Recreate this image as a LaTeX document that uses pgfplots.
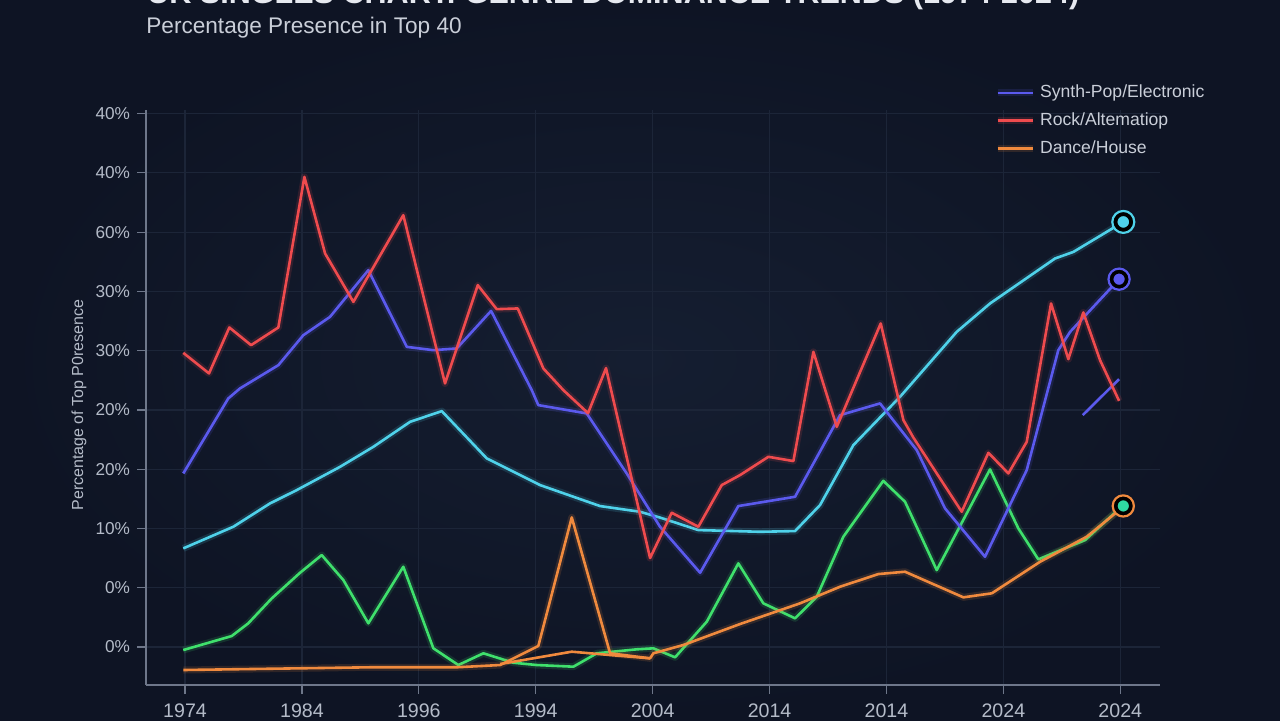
\documentclass[border=0pt]{standalone}
\usepackage{pgfplots}
\pgfplotsset{compat=1.18}
\usepackage{fontspec}
\setmainfont{Liberation Sans}
\definecolor{bgin}{HTML}{151E31}
\definecolor{bgout}{HTML}{0E1424}
\definecolor{titlecol}{HTML}{E6E9F0}
\definecolor{subcol}{HTML}{C9CED8}
\definecolor{tickcol}{HTML}{B4BBC8}
\definecolor{axcol}{HTML}{6E778A}
\definecolor{gridcol}{HTML}{1C2538}
\definecolor{synth}{HTML}{5B5AEE}
\definecolor{rock}{HTML}{EF4B4E}
\definecolor{dance}{HTML}{F08A3E}
\definecolor{cyanl}{HTML}{4FD2EA}
\definecolor{greenl}{HTML}{3FE06C}
\definecolor{teal}{HTML}{2FD9A2}
\begin{document}
\begin{tikzpicture}[x=0.5pt,y=0.5pt]
\useasboundingbox (0,0) rectangle (1280,720);
\shade[inner color=bgin, outer color=bgout] (0,0) rectangle (1280,720);
\node[anchor=base west, inner sep=0pt, text=titlecol] at (147,717) {\resizebox{466pt}{!}{\bfseries UK SINGLES CHART: GENRE DOMINANCE TRENDS (1974-2024)}};
\node[anchor=base west, inner sep=0pt, text=subcol, font=\fontsize{11.3}{13}\selectfont] at (146,687) {Percentage Presence in Top 40};
\begin{axis}[
  at={(73pt,17.5pt)}, anchor=south west,
  scale only axis, width=507pt, height=287.5pt,
  xmin=-0.334, xmax=8.34, ymin=-0.641, ymax=9.06,
  axis lines*=left,
  axis line style={draw=axcol, line width=0.7pt, -},
  xtick={0,1,2,3,4,5,6,7,8},
  xticklabels={1974,1984,1996,1994,2004,2014,2014,2024,2024},
  ytick={0,1,2,3,4,5,6,7,8,9},
  yticklabels={0\%,0\%,10\%,20\%,20\%,30\%,30\%,60\%,40\%,40\%},
  tick align=outside, major tick length=4.5pt,
  tick style={draw=axcol, line width=0.6pt},
  grid=major, major grid style={draw=gridcol, line width=0.6pt},
  ticklabel style={text=tickcol},
  yticklabel style={font=\fontsize{8.6}{10}\selectfont},
  xticklabel style={font=\fontsize{9.8}{11}\selectfont, yshift=-1.2pt},
  /pgf/number format/assume math mode=true,
  ylabel={Percentage of Top P0resence},
  every axis y label/.style={at={(axis description cs:-0.0661,0.487)}, rotate=90, anchor=center, text=tickcol, font=\fontsize{8}{10}\selectfont},
  legend style={at={(0.836,1.051)}, anchor=north west, draw=none, fill=none, text=subcol, font=\fontsize{8.8}{10}\selectfont, row sep=2pt, inner sep=0pt},
  legend cell align=left,
  legend image code/.code={\draw[#1, line width=1.3pt] (0pt,0pt) -- (17.5pt,0pt);},
  every axis plot/.append style={line width=1.3pt, line join=round},
]
% cyan (no legend)
\addplot[cyanl, forget plot, preaction={draw, line width=3.5pt, opacity=0.15}] coordinates {
(-0.015,1.664)(0.413,2.029)(0.727,2.423)(0.956,2.648)(1.326,3.040)(1.611,3.378)(1.925,3.799)(2.196,3.980)(2.581,3.182)(3.037,2.732)(3.550,2.378)(3.892,2.282)(4.063,2.184)(4.391,1.973)(4.918,1.944)(5.218,1.956)(5.432,2.395)(5.717,3.406)(6.116,4.221)(6.601,5.317)(6.886,5.796)(7.442,6.555)(7.599,6.666)(8.026,7.172)};
% green (no legend)
\addplot[greenl, forget plot, preaction={draw, line width=3.5pt, opacity=0.15}] coordinates {
(-0.015,-0.051)(0.399,0.185)(0.541,0.400)(0.742,0.821)(0.984,1.253)(1.169,1.551)(1.354,1.130)(1.568,0.400)(1.867,1.354)(2.124,-0.022)(2.338,-0.304)(2.552,-0.106)(2.808,-0.265)(3.009,-0.304)(3.322,-0.332)(3.522,-0.106)(3.864,-0.039)(4.006,-0.022)(4.192,-0.174)(4.463,0.427)(4.733,1.411)(4.947,0.737)(5.218,0.484)(5.404,0.848)(5.631,1.860)(5.973,2.804)(6.159,2.450)(6.430,1.298)(6.886,2.997)(7.128,2.002)(7.299,1.479)(7.699,1.804)(8.026,2.395)};
% extra blue segment
\addplot[synth, forget plot] coordinates {(7.679,3.912)(7.990,4.519)};
% extra orange segment
\addplot[dance, forget plot] coordinates {(2.695,-0.287)(3.308,-0.079)(3.636,-0.135)(3.978,-0.191)};
% Synth-Pop
\addplot[synth, preaction={draw, line width=3.5pt, opacity=0.15}] coordinates {
(-0.015,2.929)(0.370,4.194)(0.470,4.363)(0.798,4.755)(1.012,5.261)(1.240,5.570)(1.568,6.358)(1.897,5.064)(2.124,5.008)(2.324,5.037)(2.618,5.671)(2.966,4.334)(3.022,4.081)(3.436,3.941)(3.778,2.929)(4.063,2.029)(4.406,1.253)(4.733,2.378)(5.218,2.535)(5.603,3.912)(5.945,4.110)(6.259,3.322)(6.501,2.339)(6.843,1.523)(7.200,2.985)(7.470,5.008)(7.571,5.317)(7.990,6.206)};
\addlegendentry{Synth-Pop/Electronic}
% Rock
\addplot[rock, preaction={draw, line width=3.5pt, opacity=0.15}] coordinates {
(-0.015,4.963)(0.205,4.616)(0.379,5.391)(0.565,5.093)(0.798,5.391)(1.021,7.931)(1.198,6.639)(1.440,5.823)(1.867,7.285)(2.224,4.447)(2.504,6.105)(2.666,5.700)(2.846,5.712)(3.065,4.700)(3.236,4.334)(3.447,3.946)(3.601,4.705)(3.978,1.501)(4.163,2.265)(4.391,2.029)(4.591,2.732)(4.748,2.901)(4.990,3.209)(5.204,3.137)(5.375,4.980)(5.575,3.715)(5.951,5.459)(6.145,3.828)(6.228,3.541)(6.644,2.282)(6.872,3.277)(7.043,2.929)(7.200,3.462)(7.408,5.796)(7.556,4.857)(7.684,5.644)(7.827,4.840)(7.990,4.153)};
\addlegendentry{Rock/Altematiop}
% Dance/House
\addplot[dance, preaction={draw, line width=3.5pt, opacity=0.15}] coordinates {
(-0.015,-0.388)(1.583,-0.342)(2.324,-0.342)(2.695,-0.304)(3.022,0.017)(3.308,2.187)(3.636,-0.106)(3.978,-0.191)(4.006,-0.106)(4.263,0.034)(4.748,0.388)(5.261,0.737)(5.603,1.017)(5.931,1.231)(6.159,1.270)(6.658,0.838)(6.901,0.906)(7.314,1.438)(7.713,1.860)(8.026,2.366)};
\addlegendentry{Dance/House}
% end markers
\addplot[forget plot, only marks, mark=*, mark size=5.5pt, mark options={draw=cyanl, fill=none, line width=1.1pt}] coordinates {(8.026,7.172)};
\addplot[forget plot, only marks, mark=*, mark size=3.6pt, mark options={draw=none, fill=cyanl}] coordinates {(8.026,7.172)};
\addplot[forget plot, only marks, mark=*, mark size=5.3pt, mark options={draw=synth, fill=none, line width=1.1pt}] coordinates {(7.990,6.206)};
\addplot[forget plot, only marks, mark=*, mark size=3.5pt, mark options={draw=none, fill=synth}] coordinates {(7.990,6.206)};
\addplot[forget plot, only marks, mark=*, mark size=5.3pt, mark options={draw=dance, fill=none, line width=1.1pt}] coordinates {(8.026,2.38)};
\addplot[forget plot, only marks, mark=*, mark size=3.5pt, mark options={draw=none, fill=teal}] coordinates {(8.026,2.38)};
\end{axis}
\end{tikzpicture}
\end{document}
